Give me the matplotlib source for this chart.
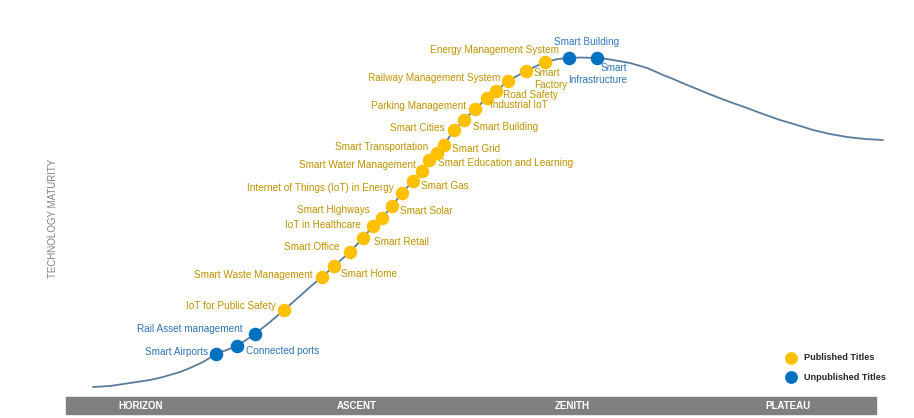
import matplotlib
matplotlib.use("Agg")
from matplotlib import pyplot as plt
from matplotlib.patches import Rectangle

plt.rcParams['font.family'] = ['Liberation Sans', 'DejaVu Sans']

# topics along the curve (pixel space of the original picture, y grows downward)
topics = ["Smart Airports", "Connected ports", "Rail Asset management",
          "IoT for Public Safety", "Smart Waste Management", "Smart Home",
          "Smart Office", "Smart Retail", "IoT in Healthcare", "Smart Highways",
          "Smart Solar", "Internet of Things (IoT) in Energy", "Smart Gas",
          "Smart Water Management", "Smart Education and Learning",
          "Smart Transportation", "Smart Grid", "Smart Cities", "Smart Building",
          "Parking Management", "Industrial IoT", "Road Safety",
          "Railway Management System", "Smart\nFactory", "Energy Management System",
          "Smart Building", "Smart\nInfrastructure"]
published = [0, 0, 0, 1, 1, 1, 1, 1, 1, 1, 1, 1, 1, 1, 1, 1, 1, 1, 1, 1, 1, 1, 1, 1, 1, 0, 0]
dot_x = [216, 237, 255, 284, 322, 334, 350, 363, 373, 382, 392, 402, 413, 422, 429,
         437, 444, 454, 464, 475, 487, 496, 508, 526, 545, 569, 597]
dot_y = [354, 346, 334, 310, 277, 266, 252, 238, 226, 218, 206, 193, 181, 171, 160,
         153, 145, 130, 120, 109, 98, 91, 81, 71, 62, 58, 58]

# hype-style curve
curve_x = [93, 110, 130, 150, 163, 180, 190, 203, 216, 237, 255, 270, 284, 300, 310,
           322, 334, 350, 363, 373, 382, 392, 402, 413, 422, 429, 437, 444, 454, 464,
           475, 487, 496, 508, 526, 545, 558, 569, 580, 597, 605, 613, 621, 630, 638,
           647, 655, 663, 672, 680, 697, 713, 730, 747, 763, 780, 797, 813, 830, 847,
           865, 883]
curve_y = [387, 386, 383, 380, 377, 372, 368, 362, 354, 346, 334, 322, 310, 296, 287,
           277, 266, 252, 238, 226, 218, 206, 193, 181, 171, 160, 153, 145, 130, 120,
           109, 98, 91, 81, 71, 62, 59, 58, 57.5, 58, 58.8, 60, 61.4, 63, 65.3,
           68, 71.4, 75, 78.5, 82, 89, 95.5, 102, 108, 114, 120, 125, 130, 134, 137,
           139, 140]

phases = ["HORIZON", "ASCENT", "ZENITH", "PLATEAU"]
legend_labels = ["Published Titles", "Unpublished Titles"]

# label placement relative to each dot: dx, dy, horizontal alignment
label_layout = [(-8, -2, 'right'), (9, 5, 'left'), (-12, -5, 'right'),
                (-8, -4, 'right'), (-9, -2, 'right'), (7, 8, 'left'),
                (-11, -5, 'right'), (11, 4, 'left'), (-12, -1, 'right'),
                (-12, -8, 'right'), (8, 5, 'left'), (-8, -5, 'right'),
                (8, 5, 'left'), (-6, -6, 'right'), (9, 3, 'left'),
                (-9, -6, 'right'), (8, 4, 'left'), (-9, -2, 'right'),
                (9, 7, 'left'), (-9, -3, 'right'), (3, 7, 'left'),
                (7, 4, 'left'), (-8, -3, 'right'), (8, 8, 'left'),
                (14, -12, 'right'), (-15, -16, 'left'), (30, 16, 'right')]

YELLOW = "#FFC000"
BLUE = "#0070C0"
GOLD_TEXT = "#C09300"
BLUE_TEXT = "#2E75B6"

fig = plt.figure(figsize=(9.14, 4.18), dpi=100)
ax = fig.add_axes([0, 0, 1, 1])
ax.set_xlim(0, 914)
ax.set_ylim(418, 0)
ax.axis("off")

ax.plot(curve_x, curve_y, color="#5B7B9A", lw=1.3, zorder=1,
        solid_joinstyle="round", solid_capstyle="round")

for name, pub, x, y, (dx, dy, ha) in zip(topics, published, dot_x, dot_y, label_layout):
    ax.scatter(x, y, s=95, color=YELLOW if pub else BLUE, zorder=3, linewidths=0)
    ax.text(x + dx, y + dy, name, ha=ha, va="center", multialignment=ha,
            fontsize=7.2, color=GOLD_TEXT if pub else BLUE_TEXT, linespacing=1.3)

# phase band at the bottom
ax.add_patch(Rectangle((66, 397), 810, 17, color="#7F7F7F", zorder=1))
for i, p in enumerate(phases):
    ax.text(141 + i * 215.7, 406, p, ha="center", va="center", color="white",
            fontsize=7, fontweight="bold")

ax.text(53, 218, "TECHNOLOGY MATURITY", rotation=90, ha="center", va="center",
        fontsize=7, color="#808080")

# legend
for i, (lab, c) in enumerate(zip(legend_labels, [YELLOW, BLUE])):
    ax.scatter(791, 358 + i * 19, s=85, color=c, linewidths=0)
    ax.text(804, 358 + i * 19, lab, ha="left", va="center", fontsize=6.6,
            fontweight="bold", color="#262626")

fig.savefig("out.png", dpi=100)
